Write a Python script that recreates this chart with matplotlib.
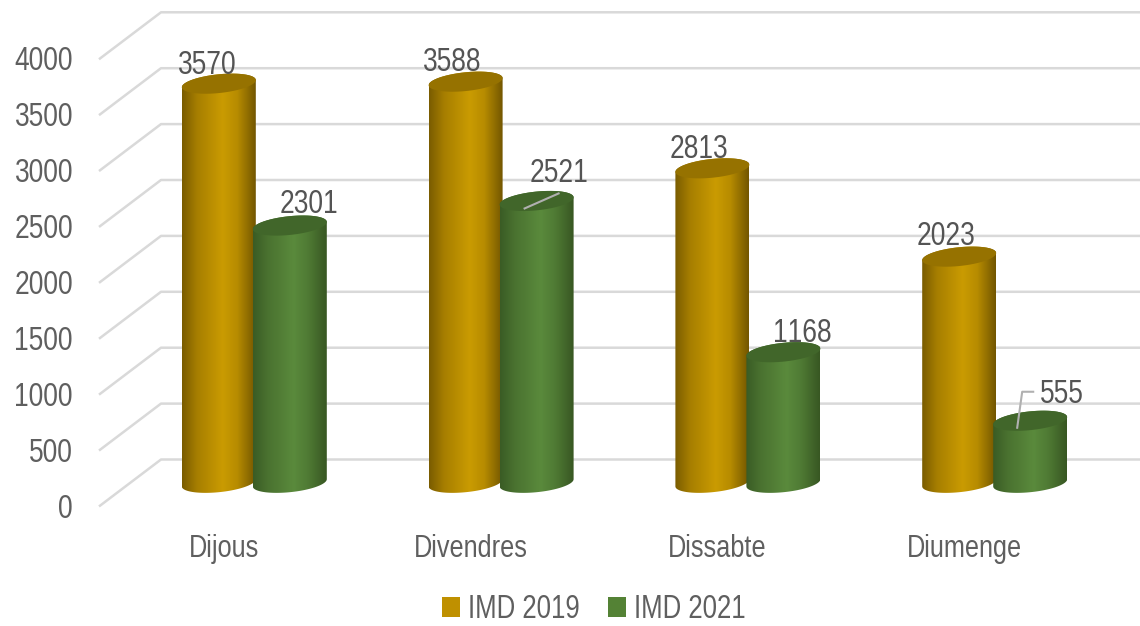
import matplotlib
matplotlib.use("Agg")
import matplotlib.pyplot as plt
import numpy as np
from fontTools.ttLib import TTFont
from matplotlib import font_manager
from matplotlib.colors import LinearSegmentedColormap
from matplotlib.patches import Patch, Polygon

days = ["Dijous", "Divendres", "Dissabte", "Diumenge"]
imd_2019 = [3570, 3588, 2813, 2023]
imd_2021 = [2301, 2521, 1168, 555]
value_ticks = [0, 500, 1000, 1500, 2000, 2500, 3000, 3500, 4000]

# Chart scale: 246.8 px per category, 0.1118 px per unit, zero level at y = 482.8 px
PX_X = 246.8
PX_Y = 0.1118
X_ORIGIN = 254.3
Y_ORIGIN = 482.8
W, H = 1140, 626

BACK_SHIFT = (Y_ORIGIN - 459.5) / PX_Y
FRONT_SHIFT = (Y_ORIGIN - 505.7) / PX_Y

gold_cmap = LinearSegmentedColormap.from_list(
    "gold", [(0, "#7a5c00"), (0.2, "#a67e00"), (0.55, "#ca9b02"), (0.75, "#b78c00"), (1, "#735600")]
)
green_cmap = LinearSegmentedColormap.from_list(
    "green", [(0, "#3a5c25"), (0.2, "#4a7230"), (0.55, "#5a8a3c"), (0.75, "#4f7a34"), (1, "#385722")]
)
GOLD_TOP = "#967200"
GREEN_TOP = "#41662a"
GOLD = "#bf9000"
GREEN = "#548235"
WALL = "#d9d9d9"
TEXT = "#5f5f5f"


def make_narrow_font(squeeze, path="narrow.ttf"):
    # No narrow family is installed, so squeeze Liberation Sans sideways
    font = TTFont(font_manager.findfont("Liberation Sans"))
    glyf = font["glyf"]
    hmtx = font["hmtx"]
    for name in font.getGlyphOrder():
        glyph = glyf[name]
        if glyph.isComposite():
            for comp in glyph.components:
                comp.x = int(comp.x * squeeze)
        elif glyph.numberOfContours > 0:
            glyph.coordinates.scale((squeeze, 1))
    for name in font.getGlyphOrder():
        glyf[name].recalcBounds(glyf)
        adv, lsb = hmtx[name]
        hmtx[name] = (round(adv * squeeze), round(lsb * squeeze))
    if "kern" in font:
        del font["kern"]
    for rec in font["name"].names:
        if rec.nameID in (1, 4, 6, 16):
            rec.string = "ChartNarrow"
    font.save(path)
    font_manager.fontManager.addfont(path)


make_narrow_font(0.79)
plt.rcParams["font.family"] = ["ChartNarrow", "Liberation Sans", "DejaVu Sans"]


def ellipse_edge(cx, level, start, stop):
    t = np.linspace(start, stop, 60)
    x = cx + 37 / PX_X * np.cos(t)
    y = level + (3.6 * np.cos(t) + 9.4 * np.sin(t)) / PX_Y
    return np.column_stack([x, y])


def draw_cylinder(ax, cx, value, cmap, top_color):
    # body outline: front arc of the base, then back arc of the top
    outline = np.vstack([ellipse_edge(cx, 0, np.pi, 2 * np.pi), ellipse_edge(cx, value, 0, np.pi)])
    body = Polygon(outline, closed=True, transform=ax.transData, facecolor="none", edgecolor="none")
    ax.add_patch(body)
    x0, x1 = cx - 37 / PX_X, cx + 37 / PX_X
    img = ax.imshow(
        np.linspace(0, 1, 200).reshape(1, -1),
        cmap=cmap,
        extent=[x0, x1, outline[:, 1].min(), outline[:, 1].max()],
        aspect="auto",
        zorder=3,
    )
    img.set_clip_path(body)
    top = Polygon(ellipse_edge(cx, value, 0, 2 * np.pi), closed=True, facecolor=top_color, edgecolor="none", zorder=3)
    ax.add_patch(top)


fig = plt.figure(figsize=(W / 100, H / 100), dpi=100)
ax = fig.add_axes([0, 0, 1, 1])

# Walls and floor grid
back_x = (161 - X_ORIGIN) / PX_X
front_x = (100 - X_ORIGIN) / PX_X
right_x = (W - X_ORIGIN) / PX_X
for v in value_ticks:
    ax.plot(
        [front_x, back_x, right_x],
        [v + FRONT_SHIFT, v + BACK_SHIFT, v + BACK_SHIFT],
        color=WALL,
        linewidth=1.8,
        zorder=1,
    )

# Bars, gold first so the green one overlaps it
for i in range(len(days)):
    gold_x = i - 35.5 / PX_X
    green_x = i + 35.5 / PX_X
    draw_cylinder(ax, gold_x, imd_2019[i], gold_cmap, GOLD_TOP)
    draw_cylinder(ax, green_x, imd_2021[i], green_cmap, GREEN_TOP)

# Value labels, shifted in pixels from the middle of each cylinder top
gold_offsets = [(-12, 18), (-13, 19), (-13, 19), (-13, 20)]
green_offsets = [(19, 21), (22, 27), (19, 19), (32, 26)]
for i in range(len(days)):
    for cx, val, off in [
        (i - 35.5 / PX_X, imd_2019[i], gold_offsets[i]),
        (i + 35.5 / PX_X, imd_2021[i], green_offsets[i]),
    ]:
        ax.annotate(
            str(val),
            xy=(cx, val),
            xytext=off,
            textcoords="offset pixels",
            ha="center",
            va="center",
            fontsize=24,
            color="#545454",
            zorder=5,
        )

# Leader lines for 2521 and 555
ax.plot(
    [1 + 35.5 / PX_X - 12 / PX_X, 1 + 35.5 / PX_X + 22 / PX_X],
    [2521 - 7.5 / PX_Y, 2521 + 7.5 / PX_Y],
    color="#b0b0b0",
    linewidth=1.5,
    zorder=4,
)
ax.plot(
    [3 + 35.5 / PX_X - 13 / PX_X, 3 + 35.5 / PX_X - 8 / PX_X, 3 + 35.5 / PX_X + 3 / PX_X],
    [555 - 7 / PX_Y, 555 + 29 / PX_Y, 555 + 29 / PX_Y],
    color="#b0b0b0",
    linewidth=1.5,
    zorder=4,
)

ax.set_xlim(-X_ORIGIN / PX_X, (W - X_ORIGIN) / PX_X)
ax.set_ylim((Y_ORIGIN - H) / PX_Y, Y_ORIGIN / PX_Y)

# Axis labels sit inside the full-figure axes
ax.set_yticks([v + FRONT_SHIFT for v in value_ticks])
ax.set_yticklabels([str(v) for v in value_ticks])
ax.set_xticks([i - 30.5 / PX_X for i in range(len(days))])
ax.set_xticklabels(days)
ax.tick_params(axis="y", length=0, pad=-73 * 0.72, labelsize=24, labelcolor=TEXT)
ax.tick_params(axis="x", length=0, pad=-(H - 534) * 0.72, labelsize=23, labelcolor=TEXT)
for spine in ax.spines.values():
    spine.set_visible(False)

handles = [Patch(facecolor=GOLD), Patch(facecolor=GREEN)]
ax.legend(
    handles,
    ["IMD 2019", "IMD 2021"],
    loc="center",
    bbox_to_anchor=(594 / W, 1 - 610 / H),
    ncol=2,
    frameon=False,
    fontsize=23.5,
    labelcolor=TEXT,
    handlelength=0.56,
    handleheight=0.56,
    handletextpad=0.25,
    columnspacing=0.85,
    borderpad=0,
    borderaxespad=0,
)

fig.savefig("out.png", dpi=100)
